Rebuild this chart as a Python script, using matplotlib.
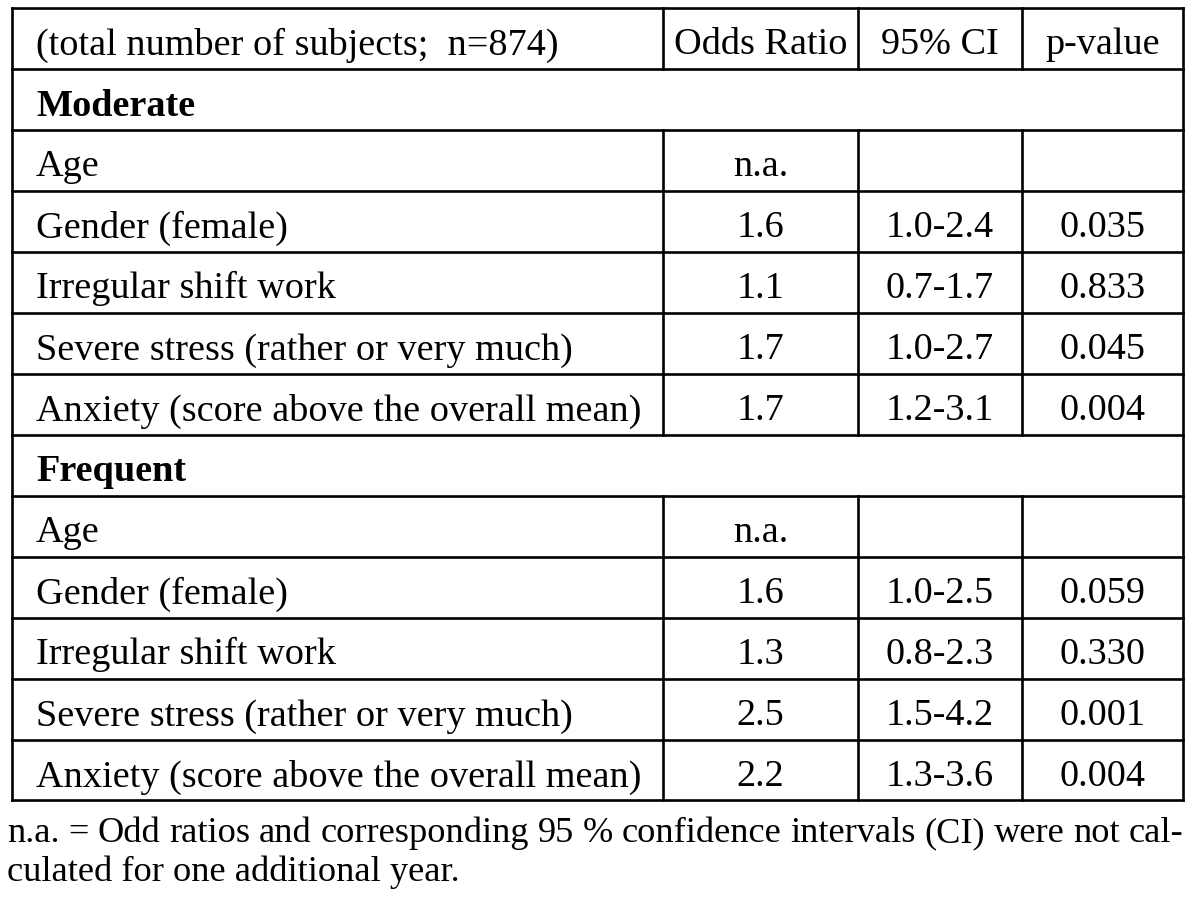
import matplotlib
matplotlib.use("Agg")
import matplotlib.pyplot as plt

header = ["(total number of subjects;  n=874)", "Odds Ratio", "95% CI", "p-value"]
sections = ["Moderate", "Frequent"]
factors = ["Age", "Gender (female)", "Irregular shift work",
           "Severe stress (rather or very much)",
           "Anxiety (score above the overall mean)"]

mod_or = ["n.a.", "1.6", "1.1", "1.7", "1.7"]
mod_ci = ["", "1.0-2.4", "0.7-1.7", "1.0-2.7", "1.2-3.1"]
mod_p = ["", "0.035", "0.833", "0.045", "0.004"]

freq_or = ["n.a.", "1.6", "1.3", "2.5", "2.2"]
freq_ci = ["", "1.0-2.5", "0.8-2.3", "1.5-4.2", "1.3-3.6"]
freq_p = ["", "0.059", "0.330", "0.001", "0.004"]

footnote = ["n.a. = Odd ratios and corresponding 95 % confidence intervals (CI) were not cal-",
            "culated for one additional year."]

# layout in pixels
W, H = 1200, 903
col_x = [11.7, 663, 858, 1022, 1183]
top = 8.5
row_h = 61
FS = 27.5
FS_NOTE = 26.2
FONT = "Liberation Serif"
LW = 1.9

fig = plt.figure(figsize=(W / 100, H / 100), dpi=100)
ax = fig.add_axes([0, 0, 1, 1])
ax.set_xlim(0, W)
ax.set_ylim(H, 0)
ax.axis("off")

# build rows: (kind, cells)
rows = [("header", header)]
for name, ors, cis, ps in [(sections[0], mod_or, mod_ci, mod_p),
                           (sections[1], freq_or, freq_ci, freq_p)]:
    rows.append(("section", [name]))
    for f, o, c, p in zip(factors, ors, cis, ps):
        rows.append(("data", [f, o, c, p]))

n = len(rows)
bottom = top + n * row_h

# horizontal lines
for i in range(n + 1):
    y = top + i * row_h
    ax.plot([col_x[0], col_x[-1]], [y, y], color="black", lw=LW, solid_capstyle="projecting")
# outer verticals
for x in (col_x[0], col_x[-1]):
    ax.plot([x, x], [top, bottom], color="black", lw=LW, solid_capstyle="projecting")

for i, (kind, cells) in enumerate(rows):
    y0 = top + i * row_h
    base = y0 + 46
    if kind == "section":
        ax.text(36, base, cells[0], fontsize=FS, family=FONT, fontweight="bold", va="baseline")
        continue
    for x in col_x[1:4]:
        ax.plot([x, x], [y0, y0 + row_h], color="black", lw=LW)
    ax.text(36, base, cells[0], fontsize=FS, family=FONT, va="baseline")
    for j in range(1, 4):
        xc = (col_x[j] + col_x[j + 1]) / 2
        ax.text(xc, base, cells[j], fontsize=FS, family=FONT, va="baseline", ha="center")

# footnote, first line justified
fig.canvas.draw()
r = fig.canvas.get_renderer()
words = footnote[0].split(" ")
tmp = [ax.text(0, 0, w, fontsize=FS_NOTE, family=FONT) for w in words]
widths = [t.get_window_extent(r).width for t in tmp]
for t in tmp:
    t.remove()
x_left, x_right = 7, 1183
gap = (x_right - x_left - sum(widths)) / (len(words) - 1)
x = x_left
for w, wd in zip(words, widths):
    ax.text(x, 842, w, fontsize=FS_NOTE, family=FONT, va="baseline")
    x += wd + gap
ax.text(x_left, 881, footnote[1], fontsize=FS_NOTE, family=FONT, va="baseline")

fig.savefig("out.png", dpi=100)
